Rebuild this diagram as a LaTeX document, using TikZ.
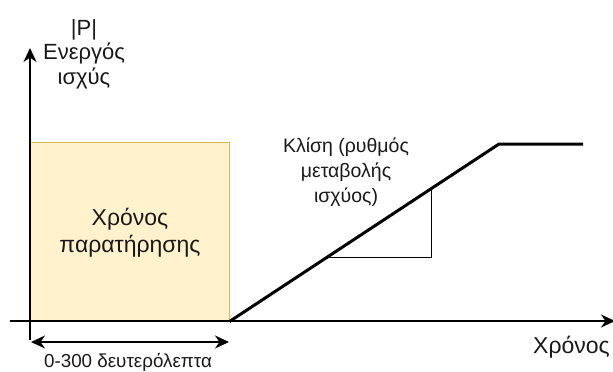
\documentclass[tikz,border=0pt]{standalone}
\usepackage{fontspec}
\setmainfont{Liberation Sans}
\usetikzlibrary{arrows.meta,calc}
\definecolor{boxfill}{HTML}{FFF2CC}
\definecolor{boxline}{HTML}{D6B656}
\tikzset{
  axisline/.style={line width=1.8pt, -{Stealth[length=14pt,width=13pt,inset=4.5pt]}},
  spanline/.style={line width=1.8pt, {Stealth[length=14pt,width=13pt,inset=4.5pt]}-{Stealth[length=14pt,width=13pt,inset=4.5pt]}},
  rampline/.style={line width=3pt},
  txt/.style={font=\fontsize{19.5}{25}\selectfont, align=center, inner sep=0pt, text=black!90},
}
\begin{document}
\begin{tikzpicture}[x=1pt, y=-1pt]
			%%%%% START %%%%%
			\useasboundingbox (0, 0) rectangle (613, 372);
			
			\coordinate (ybot) at (30, 340);
			\coordinate (ytop) at (30, 48);
			\coordinate (xleft) at (10, 321);
			\coordinate (xright) at (615, 321);
			
			\node[draw=boxline, fill=boxfill, line width=1pt, minimum width=199pt, minimum height=179pt] (obs) at (129.5, 231.5) {};
			\node[txt, font=\fontsize{23}{27}\selectfont] (obstxt) at (130, 232.5) {Χρόνος\\παρατήρησης};
			
			\draw[axisline] (xleft) -- (xright);
			\draw[axisline] (ybot) -- (ytop);
			
			\coordinate (start) at (obs.south east);
			\coordinate (knee) at (499, 144);
			\coordinate (flat) at (583, 144);
			\draw[rampline, line join=round] (start) -- (knee) -- (flat);
			
			\coordinate (tria) at ($(start)!0.363!(knee)$);
			\coordinate (trib) at ($(start)!0.748!(knee)$);
			\draw[line width=1pt] (tria) -- (tria -| trib) -- (trib);
			
			\coordinate (spanl) at (31, 342);
			\coordinate (spanr) at (229, 342);
			\draw[spanline] (spanl) -- (spanr);
			
			\node[txt, font=\fontsize{18.8}{25}\selectfont, anchor=base] (span) at (128, 367) {0-300 δευτερόλεπτα};
			\node[txt, font=\fontsize{22}{24.5}\selectfont] (ylab) at (84, 54) {|P|\\Ενεργός\\ισχύς};
			\node[txt] (slope) at (346, 172) {Κλίση (ρυθμός\\μεταβολής\\ισχύος)};
			\node[txt, font=\fontsize{23}{25}\selectfont, anchor=base west] (xlab) at (533, 353) {Χρόνος};
			%%%%% END %%%%%
\end{tikzpicture}
\end{document}
